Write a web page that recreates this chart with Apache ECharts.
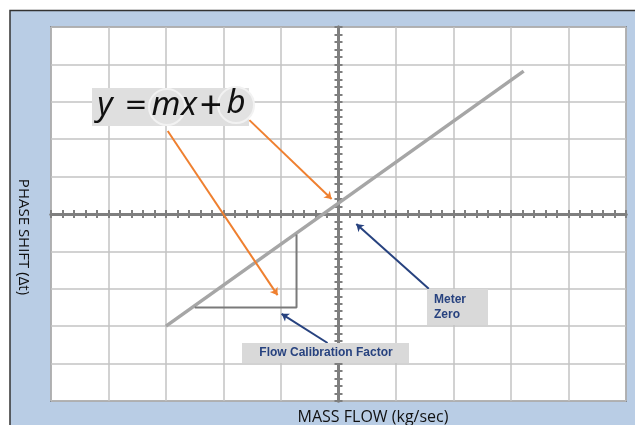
<!DOCTYPE html>
<html>
<head>
<meta charset="utf-8">
<script src="https://cdn.jsdelivr.net/npm/echarts@6/dist/echarts.min.js"></script>
<style>
  html, body { margin: 0; padding: 0; background: #fff; }
  #chart { width: 635px; height: 425px; }
</style>
</head>
<body>
<div id="chart"></div>
<script>
// 标定直线 (mass flow vs phase shift)
let lineX = [-3, 3.22];
let lineY = [-3, 3.82];
// 斜率三角形
let slopeX = [-2.5, -0.73, -0.73];
let slopeY = [-2.5, -2.5, -0.55];
// 箭头：起点 -> 终点
let arrowM = [[-2.97, 2.22], [-1.06, -2.17]];
let arrowB = [[-1.55, 2.51], [-0.12, 0.40]];
let arrowZero = [[1.57, -2.0], [0.31, -0.27]];
let arrowFactor = [[-0.19, -3.45], [-0.99, -2.67]];

let axisColor = '#7f7f7f';
let orange = '#ef8030';
let navy = '#27427f';

function toPairs(xs, ys) {
    return xs.map(function (x, i) { return [x, ys[i]]; });
}

function arrowLine(a, color) {
    return [{ coord: a[0], lineStyle: { color: color } }, { coord: a[1] }];
}

let myChart = echarts.init(document.getElementById('chart'));

function makeX(inside, grid) {
    return {
        type: 'value', min: -5, max: 5, interval: 1, position: 'bottom',
        axisLine: { onZero: true, onZeroAxisIndex: 0, lineStyle: { color: axisColor, width: 3 } },
        axisTick: { show: true, inside: inside, length: 4, lineStyle: { color: axisColor, width: 2 } },
        minorTick: { show: true, splitNumber: 5, length: 4, lineStyle: { color: axisColor, width: 2 } },
        axisLabel: { show: false },
        splitLine: { show: grid, lineStyle: { color: '#c3c3c3', width: 1.5 } },
        minorSplitLine: { show: false }
    };
}

function makeY(inside, grid) {
    return {
        type: 'value', min: -5, max: 5, interval: 1, position: 'left',
        axisLine: { onZero: true, onZeroAxisIndex: 0, lineStyle: { color: axisColor, width: 3 } },
        axisTick: { show: true, inside: inside, length: 4, lineStyle: { color: axisColor, width: 2 } },
        minorTick: { show: true, splitNumber: 5, length: 4, lineStyle: { color: axisColor, width: 2 } },
        axisLabel: { show: false },
        splitLine: { show: grid, lineStyle: { color: '#c3c3c3', width: 1.5 } },
        minorSplitLine: { show: false }
    };
}

let eqFont = { fontSize: 33, fontStyle: 'italic', fontFamily: 'Noto Sans', fill: '#111', align: 'center', verticalAlign: 'middle' };
let opFont = { fontSize: 30, fontFamily: 'Noto Sans', fill: '#111', align: 'center', verticalAlign: 'middle' };

function eqText(ch, x, y, base, extra) {
    return Object.assign({ type: 'text', z: 102, x: x, y: y, style: Object.assign({ text: ch }, base) }, extra || {});
}

let option = {
    backgroundColor: '#b9cde5',
    animation: false,
    grid: {
        left: 51, top: 27, width: 575, height: 374,
        show: true, backgroundColor: '#ffffff', borderColor: '#5a5a5a', borderWidth: 1.5
    },
    xAxis: [makeX(false, true), makeX(true, false)],
    yAxis: [makeY(false, true), makeY(true, false)],
    series: [
        {
            type: 'line', data: toPairs(lineX, lineY), symbol: 'none', z: 3,
            lineStyle: { color: '#a6a6a6', width: 3.5 }
        },
        {
            type: 'line', data: toPairs(slopeX, slopeY), symbol: 'none', z: 3,
            lineStyle: { color: '#7a7a7a', width: 2 }
        },
        {
            type: 'line', data: [], z: 5,
            markLine: {
                silent: true, symbol: ['none', 'arrow'], symbolSize: 7,
                label: { show: false },
                lineStyle: { type: 'solid', width: 2 },
                data: [
                    arrowLine(arrowM, orange),
                    arrowLine(arrowB, orange),
                    arrowLine(arrowZero, navy),
                    arrowLine(arrowFactor, navy)
                ]
            }
        }
    ],
    graphic: [
        // 外框
        { type: 'rect', z: 100, shape: { x: 0, y: 0, width: 635, height: 10 }, style: { fill: '#fff' } },
        { type: 'rect', z: 100, shape: { x: 0, y: 0, width: 10, height: 425 }, style: { fill: '#fff' } },
        { type: 'polyline', z: 101, shape: { points: [[10, 425], [10, 10.5], [635, 10.5]] }, style: { stroke: '#333', lineWidth: 1.5, fill: null } },
        // 坐标轴标题
        { type: 'text', z: 100, x: 373, y: 417, style: { text: 'MASS FLOW (kg/sec)', fontSize: 16, fontFamily: 'Open Sans', fill: '#111', align: 'center', verticalAlign: 'middle' } },
        { type: 'text', z: 100, x: 23, y: 237, rotation: -Math.PI / 2, style: { text: 'PHASE SHIFT (\u0394t)', fontSize: 15, fontFamily: 'Open Sans', fill: '#111', align: 'center', verticalAlign: 'middle' } },
        // 公式
        { type: 'rect', z: 100, shape: { x: 92, y: 88, width: 157, height: 38 }, style: { fill: '#dfdfdf' } },
        { type: 'circle', z: 101, shape: { cx: 167, cy: 107, r: 18 }, style: { fill: '#e2e2e2', stroke: '#f2f2f2', lineWidth: 2 } },
        { type: 'circle', z: 101, shape: { cx: 236, cy: 105, r: 18 }, style: { fill: '#e2e2e2', stroke: '#f2f2f2', lineWidth: 2 } },
        eqText('y', 105, 106, eqFont),
        eqText('=', 136, 107, opFont, { scaleX: 1.25 }),
        eqText('m', 166, 106, eqFont),
        eqText('x', 189, 106, eqFont),
        eqText('+', 211, 107, opFont, { scaleX: 1.3, scaleY: 1.3 }),
        eqText('b', 236, 104, eqFont),
        // 注释框
        { type: 'rect', z: 100, shape: { x: 242, y: 343, width: 167, height: 20 }, style: { fill: '#d9d9d9' } },
        { type: 'text', z: 101, x: 326, y: 353, style: { text: 'Flow Calibration Factor', fontSize: 12, fontWeight: 'bold', fontFamily: 'Liberation Sans', fill: navy, align: 'center', verticalAlign: 'middle' } },
        { type: 'rect', z: 100, shape: { x: 427, y: 289, width: 61, height: 36 }, style: { fill: '#d9d9d9' } },
        { type: 'text', z: 101, x: 434, y: 307, style: { text: 'Meter\nZero', fontSize: 12, fontWeight: 'bold', fontFamily: 'Liberation Sans', lineHeight: 15, fill: navy, align: 'left', verticalAlign: 'middle' } }
    ]
};

myChart.setOption(option);
</script>
</body>
</html>
